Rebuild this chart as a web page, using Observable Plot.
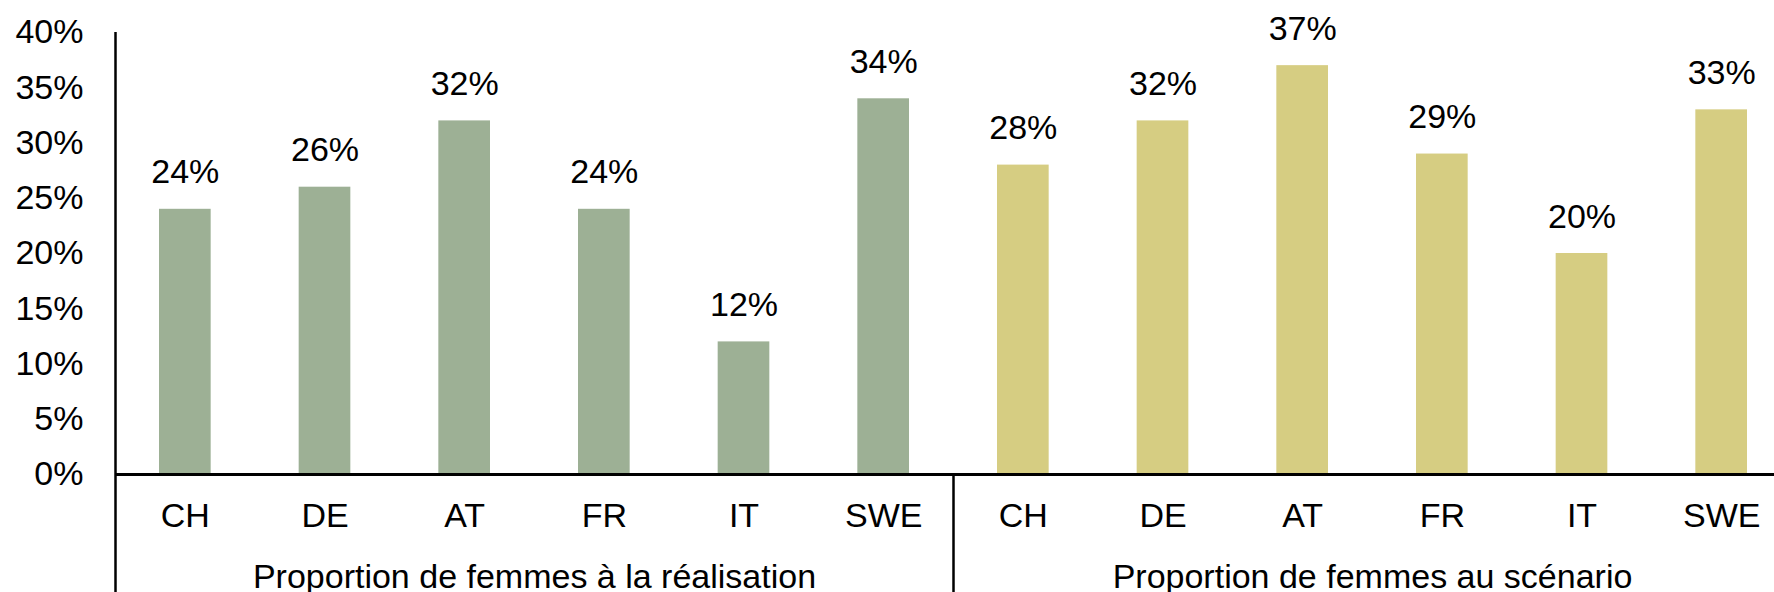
<!DOCTYPE html>
<html>
<head>
<meta charset="utf-8">
<script src="https://cdn.jsdelivr.net/npm/d3@7"></script>
<script src="https://cdn.jsdelivr.net/npm/@observablehq/plot@0.6"></script>
<style>
  html, body { margin: 0; padding: 0; background: #fff; overflow: hidden; }
</style>
</head>
<body>
<div id="chart"></div>
<script>
const groups = ["Proportion de femmes à la réalisation", "Proportion de femmes au scénario"];
const countries = ["CH", "DE", "AT", "FR", "IT", "SWE"];
const realisation = [24, 26, 32, 24, 12, 34];
const scenario = [28, 32, 37, 29, 20, 33];
const yTicks = [0, 5, 10, 15, 20, 25, 30, 35, 40];
const groupColors = ["#9db095", "#d6cd82"];

const seriesByGroup = [realisation, scenario];
const data = groups.flatMap((g, gi) =>
  countries.map((c, ci) => ({
    group: g,
    country: c,
    value: seriesByGroup[gi][ci],
    pos: gi * countries.length + ci
  }))
);
const groupLabels = groups.map((g, gi) => ({
  group: g,
  start: gi * countries.length,
  mid: gi * countries.length + countries.length / 2
}));
const n = groups.length * countries.length;

const W = 1774, H = 592;
const font = "Liberation Sans, Arial, Helvetica, sans-serif";
const fs = 34;

const yScaleOpts = { domain: [0, 40], range: [474, 32] };
// value of the y scale at the bottom edge of the picture (the frame below the baseline)
const yBottom = Plot.scale({ y: yScaleOpts }).invert(H);

const plot = Plot.plot({
  width: W,
  height: H,
  marginLeft: 115,
  marginRight: 0,
  marginTop: 0,
  marginBottom: 0,
  style: { fontFamily: font, fontSize: fs + "px", color: "#000", background: "#fff" },
  x: { type: "linear", domain: [0, n], range: [115, 1791], axis: null },
  y: yScaleOpts,
  color: { domain: groups, range: groupColors },
  marks: [
    Plot.rectY(data, {
      x1: "pos",
      x2: d => d.pos + 1,
      y: "value",
      fill: "group",
      insetLeft: 44,
      insetRight: 44
    }),
    Plot.text(data, {
      x: d => d.pos + 0.5,
      y: "value",
      text: d => d.value + "%",
      lineAnchor: "bottom",
      dy: -26,
      fontSize: fs,
      fill: "#000"
    }),
    Plot.text(data, {
      x: d => d.pos + 0.5,
      y: () => 0,
      text: "country",
      lineAnchor: "top",
      dy: 28,
      fontSize: fs,
      fill: "#000"
    }),
    Plot.text(groupLabels, {
      x: "mid",
      y: () => 0,
      text: "group",
      lineAnchor: "top",
      dy: 89,
      fontSize: fs,
      fill: "#000"
    }),
    Plot.axisY({
      ticks: yTicks,
      tickFormat: d => d + "%",
      tickSize: 0,
      tickPadding: 32,
      fontSize: fs,
      label: null
    }),
    Plot.ruleY([0], { stroke: "#000", strokeWidth: 3 }),
    Plot.ruleX([{ x: 0, y1: 40 }, { x: groupLabels[1].start, y1: 0 }], {
      x: "x",
      y1: "y1",
      y2: () => yBottom,
      stroke: "#000",
      strokeWidth: 2.5
    })
  ]
});
document.getElementById("chart").appendChild(plot);
</script>
</body>
</html>
